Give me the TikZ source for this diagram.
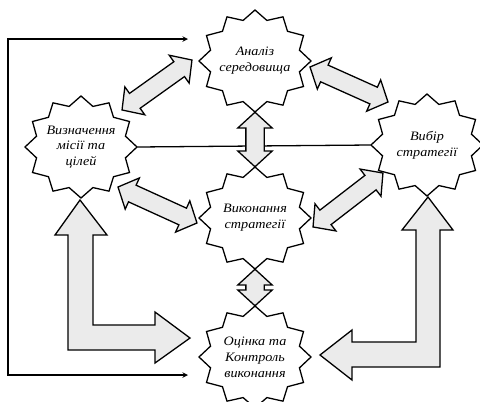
\documentclass[tikz,border=0pt]{standalone}
\usepackage{fontspec}
\setmainfont{Liberation Serif}
\usepackage{tikz}
\usetikzlibrary{shapes.geometric, shapes.arrows, arrows, calc}
\tikzstyle{stage} = [circle, minimum size=30.6mm, inner sep=0pt, xscale=1.1, align=center, font=\fontsize{11}{13.5}\selectfont\itshape]
\tikzstyle{starline} = [draw=black, line width=1.1pt, line join=miter]
\tikzstyle{fatlink} = [double arrow, double arrow head extend=2.4mm, double arrow tip angle=95, inner xsep=0pt, inner ysep=2.55mm, draw=black, line width=1.1pt, fill=black!8]
\tikzstyle{bigarrow} = [draw=black, line width=1.1pt, fill=black!8, line join=miter]
\tikzstyle{arrow} = [line width=1.1pt,<->,>=stealth]

% twelve-point star round a stage
\newcommand{\stageborder}[1]{%
  \draw[starline] ($(#1)+(90:56 and 51)$)
    \foreach \a in {105,135,...,435} {
      -- ($(#1)+(\a:46 and 42)$) -- ($(#1)+({\a+15}:56 and 51)$)
    } -- cycle;
}

% fat double arrow between two points
\newcommand{\dblink}[2]{%
  \path (#1) coordinate (da) (#2) coordinate (db);
  \path let \p1=($(db)-(da)$), \n2={veclen(\x1,\y1)} in
    (da) -- node[fatlink, sloped, minimum height=\n2] {} (db);
}

\begin{document}
\begin{tikzpicture}[x=0.3mm, y=-0.3mm]
    \useasboundingbox (0,0) rectangle (480,401);
    \clip (0,0) rectangle (480,401);

    % Stages
    \node[stage] (analiz) at (255,61) {Аналіз\\середовища};
    \node[stage] (vyzn) at (81,147) {Визначення\\місії та\\цілей};
    \node[stage] (vybir) at (427,145) {Вибір\\стратегії};
    \node[stage] (vykon) at (255,218) {Виконання\\стратегії};
    \node[stage] (ocinka) at (255,357) {Оцінка та\\Контроль\\виконання};
    \foreach \s in {analiz, vyzn, vybir, vykon, ocinka} {
        \stageborder{\s}
    }

    % Feedback line
    \coordinate (fbcorner) at (8,375);
    \draw[arrow] ($(analiz)+(-67,-22)$) -| (fbcorner) -- ($(ocinka)+(-67,18)$);

    % Horizontal link
    \draw[line width=1.1pt] (vyzn.east) -- (vybir.west);

    % Double arrows
    \dblink{analiz.south}{vykon.north}
    \dblink{vykon.south}{ocinka.north}
    \dblink{$(vyzn)+(41,-37)$}{$(analiz)+(-63,-1)$}
    \dblink{$(analiz)+(55,6)$}{$(vybir)+(-39,-43)$}
    \dblink{$(vyzn)+(37,40)$}{$(vykon)+(-58,5)$}
    \dblink{$(vykon)+(58,9)$}{$(vybir)+(-44,28)$}

    % Big arrows to control
    \draw[bigarrow] (80,200) -- (107,235) -- (93,235) -- (93,325) -- (155,325)
        -- (155,312) -- (190,338) -- (155,363) -- (155,350) -- (68,350)
        -- (68,235) -- (55,235) -- cycle;
    \draw[bigarrow] (428,197) -- (453,230) -- (440,230) -- (440,367) -- (352,367)
        -- (352,380) -- (320,355) -- (352,330) -- (352,342) -- (416,342)
        -- (416,230) -- (402,230) -- cycle;
\end{tikzpicture}
\end{document}
